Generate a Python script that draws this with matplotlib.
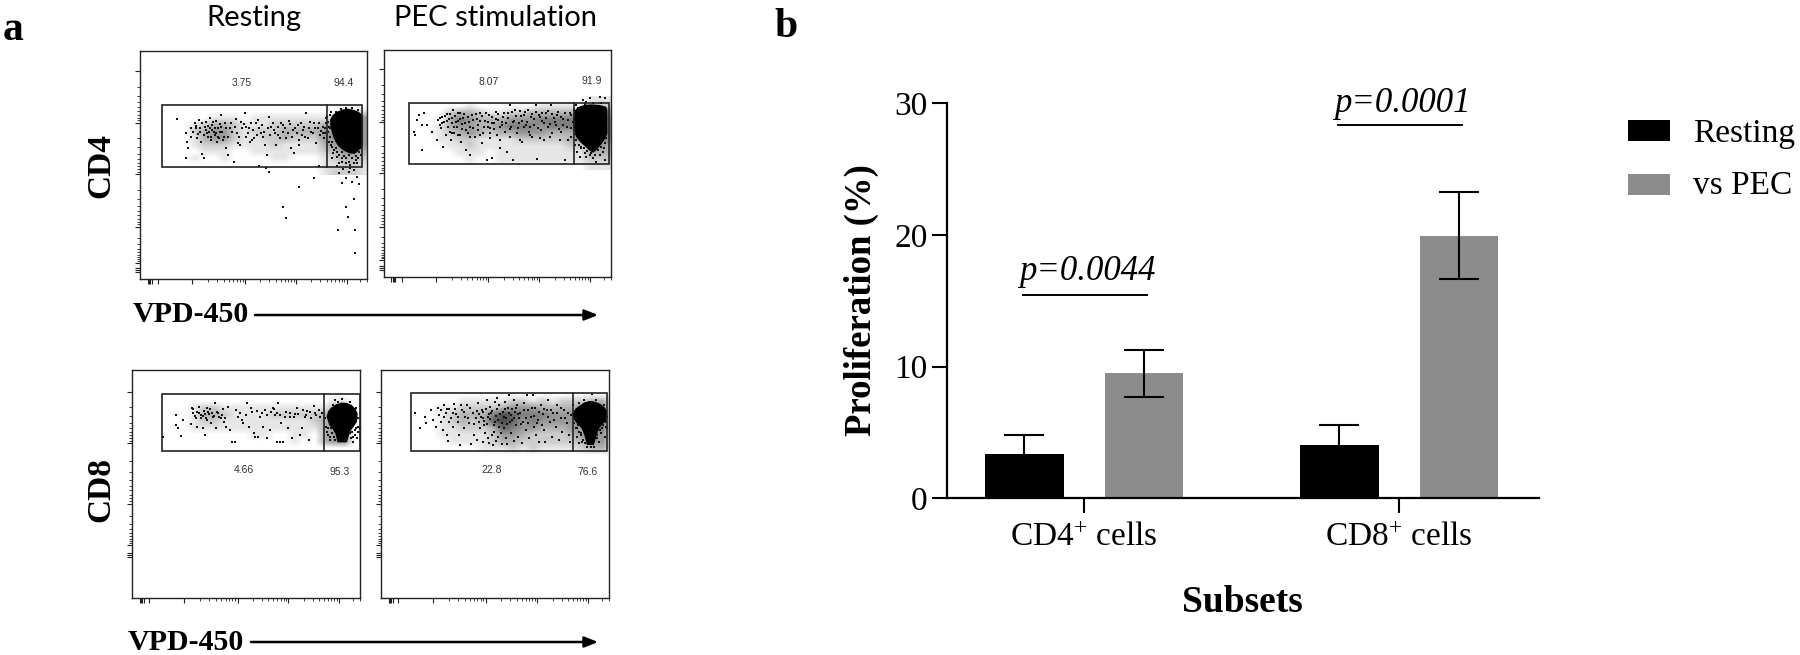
import numpy as np
import matplotlib
matplotlib.use("Agg")
import matplotlib.pyplot as plt
from matplotlib.patches import Polygon, Rectangle

plt.rcParams['font.family'] = ['Liberation Serif', 'DejaVu Serif']
plt.rcParams['mathtext.fontset'] = 'custom'
plt.rcParams['mathtext.rm'] = 'Liberation Serif'
plt.rcParams['mathtext.default'] = 'regular'

# ---------- panel b data ----------
categories = ['CD4$^{+}$ cells', 'CD8$^{+}$ cells']
resting_mean = [3.38, 4.03]
resting_err = [1.47, 1.52]
pec_mean = [9.5, 19.95]
pec_err = [1.78, 3.3]
y_ticks = [0, 10, 20, 30]
p_labels = ['p=0.0044', 'p=0.0001']
p_line_y = [15.47, 28.35]
p_text_y = [17.35, 30.1]

# ---------- panel a data (channel units of each plot) ----------
panel_names = ['A', 'B', 'C', 'D']
gate_labels = {'A': ['3.75', '94.4'], 'B': ['8.07', '91.9'], 'C': ['4.66', '95.3'], 'D': ['22.8', '76.6']}
label_pos = {'A': [(241.6, 83), (343.7, 83)], 'B': [(488.6, 82), (592, 81)],
             'C': [(243.7, 469.7), (339.6, 472)], 'D': [(492, 470), (588, 472)]}
axes_px = {'A': (140, 51, 367.3, 279), 'B': (383.7, 50, 611, 277),
           'C': (131.8, 370, 360, 598), 'D': (381, 370, 609, 598)}
limits = {'A': (-60, 622, 552, -132), 'B': (-64, 618, 561, -120),
          'C': (-85, 600, 639, -45), 'D': (-81, 603, 639, -45)}
gates = {'A': (5, 610, 30, 215, 505), 'B': (13, 612, 40, 222, 508),
         'C': (5, 600, 27, 198, 493), 'D': (8, 600, 25, 198, 496)}
x_major = {'A': [96, 257, 410, 563], 'B': [93, 250, 404, 557], 'C': [71, 233, 386, 539], 'D': [74, 234, 389, 543]}
y_major = {'A': [-72, 83, 238, 395, 504], 'B': [-63, 96, 248, 410, 510],
           'C': [20, 174, 357, 480], 'D': [20, 174, 357, 480]}
x_smear = {'A': -33, 'B': -37, 'C': -57, 'D': -54}
y_smear = {'A': 525, 'B': 534, 'C': 510, 'D': 510}

density = {
 'A': ["000000000000000000000",
       "000000000000000000111",
       "000001110111111112444",
       "000123321112222234444",
       "000234421222333344444",
       "000134421122322244444",
       "000122211112111134444",
       "000011100111111123443",
       "000100100001100012332",
       "000000000000000011221",
       "000000000000000012221"],
 'B': ["000000000000000000111",
       "000000100000011110122",
       "000023321122333334444",
       "000035433344455556555",
       "000134433455545555555",
       "000123432334443334555",
       "000112211112222233445",
       "000011211111111122343",
       "000001110111111111333",
       "000000100111111111222",
       "000000000000000000111"],
 'C': ["000000000000000000000",
       "000000000000000001100",
       "000122111111111113300",
       "000133211112222234400",
       "000122111111111234400",
       "000111111111111134400",
       "000000000110011034400",
       "000000000000010034400",
       "000000000000000000000",
       "000000000000000000000",
       "000000000000000000000"],
 'D': ["000000000000000000000",
       "000001111122121222330",
       "000112222344433334440",
       "000123335765554444550",
       "000123236764544444550",
       "000112223654433344550",
       "000111112443222234440",
       "000011112332222223440",
       "000000011121211112330",
       "000000000000000000000",
       "000000000000000000000"],
}

blobs = {
 'A': [(515,75),(522,62),(535,52),(550,46),(565,43),(582,46),(597,52),(610,62),(610,150),(600,163),(590,172),(577,174),(565,170),(552,163),(540,153),(530,138),(522,118),(516,95)],
 'B': [(508,70),(516,58),(528,50),(545,46),(562,45),(585,47),(603,52),(606,60),(606,130),(598,148),(588,162),(575,178),(565,186),(553,178),(543,168),(528,155),(516,140),(508,120)],
 'C': [(503,95),(507,80),(515,70),(530,60),(545,55),(562,56),(575,62),(587,74),(592,87),(590,110),(580,124),(572,135),(566,150),(560,170),(535,170),(530,148),(522,133),(510,118)],
 'D': [(498,85),(506,72),(517,64),(532,54),(547,50),(562,52),(577,58),(590,68),(598,80),(595,105),(582,118),(573,130),(566,150),(558,178),(540,178),(533,150),(524,128),(510,114),(501,102)],
}

events = {
 'A': [(52,72),(80,115),(82,140),(85,160),(80,190),(95,100),(95,125),(105,85),(110,100),(112,130),(118,75),(120,110),(125,140),(128,178),(133,188),
       (135,95),(140,80),(142,115),(146,125),(150,100),(152,70),(155,135),(158,90),(162,110),(165,120),(168,78),(172,140),(175,100),(178,130),(182,88),
       (185,60),(188,112),(192,125),(198,100),(200,160),(205,180),(215,85),(222,200),(230,72),(235,145),(240,150),(245,80),(255,55),(260,95),(265,115),
       (270,140),(278,135),(285,130),(290,85),(295,75),(305,115),(312,125),(318,150),(322,180),(328,65),(335,95),(345,105),(350,150),(356,120),(365,85),
       (372,110),(380,130),(388,78),(395,160),(400,105),(405,175),(415,90),(420,150),(428,120),(435,95),(440,55),(445,130),(455,110),(465,85),(470,145),
       (475,100),(482,120),(490,95),(496,130),(500,70),(512,60),(512,100),(515,150),(522,175),(535,185),(550,190),(570,200),(590,195),(605,180),
       (300,212),(320,218),(478,212),(535,212),(330,232),(420,277),(465,248),(371,337),(381,370),(536,405),(587,405),(587,473),(585,312),(560,335),(566,365),
       (540,235),(552,222),(560,250),(570,232),(578,260),(585,225),(595,245),(600,268),(548,265),(572,218),
       (100,110),(108,92),(115,118),(122,100),(128,85),(132,120),(138,105),(144,92),(148,110),(153,125),(157,105),(160,82),(166,98),(170,115),(174,125),(180,110),
       (185,95),(190,135),(195,85),(205,125),(212,100),(218,110),(226,95),(232,115),(238,125),(248,100),(252,88),(258,125),(268,100),(275,85),(282,105),(292,120),
       (300,100),(308,90),(315,110),(325,100),(332,120),(340,85),(348,115),(355,95),(362,130),(370,90),(378,100),(385,115),(392,88),(398,125),(408,100),(412,115),
       (418,135),(425,85),(432,105),(438,125),(448,100),(452,80),(460,115),(468,100),(478,85),(485,108),(492,115),(498,100),(502,85),(498,115),
       (505,65),(508,80),(510,95),(507,110),(512,125),(510,140),(518,140),(520,155),(525,165),(530,160),(535,172),(540,180),(548,172),(555,182),(562,190),(570,180),
       (578,188),(585,175),(592,182),(600,170),(606,160),(598,190),(585,205),(572,210),(560,205),(548,200),(595,205),(530,50),(545,42),(560,38),(580,40),(598,45),(515,50),(520,190),(540,205)],
 'B': [(28,125),(30,135),(35,90),(42,75),(50,105),(50,180),(57,70),(65,105),(80,125),(95,150),(100,90),(104,105),(108,115),(112,80),(115,170),(118,95),
       (122,135),(125,72),(128,110),(132,88),(135,125),(138,150),(142,100),(145,60),(148,130),(150,78),(155,110),(158,135),(160,92),(164,70),(168,155),(172,118),
       (175,85),(180,100),(182,180),(188,130),(192,95),(196,195),(200,75),(205,115),(210,140),(215,88),(220,105),(225,70),(230,160),(235,128),(240,92),(245,210),
       (248,110),(252,76),(256,145),(260,205),(262,98),(268,118),(272,66),(276,135),(280,90),(285,175),(290,105),(295,82),(300,125),(305,185),(310,70),(315,45),
       (320,110),(325,210),(328,92),(332,60),(338,130),(342,100),(348,78),(352,155),(358,112),(362,65),(368,95),(372,125),(378,82),(382,140),(388,105),(395,45),
       (398,208),(402,75),(408,120),(412,92),(418,150),(425,70),(430,110),(438,45),(442,130),(448,85),(455,105),(460,65),(468,125),(475,88),(480,210),(488,110),
       (495,70),(500,140),(505,95),(515,45),(512,165),(518,185),(525,200),(535,30),(545,35),(555,25),(585,22),(600,25),(530,175),(545,200),(565,205),(585,195),(600,210),(575,215),(555,195),(598,175),
       (105,85),(112,100),(120,78),(126,92),(134,72),(140,84),(146,110),(152,96),(158,68),(165,88),(170,102),(176,72),(182,120),(190,80),(196,110),(204,90),
       (212,72),(218,120),(226,92),(232,78),(238,112),(244,70),(250,95),(256,115),(262,80),(268,100),(274,88),(280,72),(286,112),(292,95),(298,70),(304,100),
       (310,85),(316,118),(322,66),(326,95),(334,78),(340,115),(346,62),(352,92),(358,75),(364,105),(370,60),(376,110),(382,72),(388,88),(394,65),(400,115),
       (406,82),(412,68),(418,98),(424,85),(430,62),(436,102),(442,72),(450,95),(456,75),(462,118),(470,80),(476,105),(482,70),(490,90),(498,75),(500,115),
       (140,130),(165,135),(195,140),(225,135),(255,130),(285,150),(315,140),(345,150),(375,135),(405,145),(435,140),(465,150),(490,150),
       (508,60),(510,130),(515,150),(522,165),(528,170),(538,175),(548,182),(558,190),(570,195),(580,180),(590,170),(600,160),(604,145),(540,190),(595,185),(520,55),(540,42),(565,38),(590,40)],
 'C': [(10,155),(47,90),(48,120),(55,130),(62,152),(68,105),(92,118),(95,70),(100,85),(108,100),(112,125),(118,65),(122,90),(128,130),(132,78),(135,150),
       (138,100),(142,70),(148,88),(152,115),(158,95),(165,55),(168,130),(175,85),(182,100),(188,72),(192,110),(198,125),(205,65),(210,135),(215,170),(225,170),
       (228,75),(235,95),(245,105),(250,115),(258,90),(262,55),(268,125),(272,70),(282,145),(285,155),(295,155),(300,95),(308,125),(315,75),(322,160),(330,135),
       (338,70),(345,90),(350,170),(355,55),(360,170),(365,115),(370,170),(378,80),(385,130),(392,95),(398,160),(405,88),(412,70),(420,150),(428,130),(435,95),
       (442,78),(448,165),(455,100),(462,62),(470,90),(478,75),(488,85),(505,150),(512,165),(525,45),(548,42),(585,135),(592,160),(580,170),(505,130),(595,125),
       (100,72),(105,92),(112,80),(118,85),(124,100),(128,92),(134,88),(140,105),(145,80),(150,72),(156,85),(162,92),(170,80),(178,95),(186,90),(195,100),
       (240,85),(275,80),(290,78),(305,85),(320,90),(332,80),(342,72),(352,85),(362,90),(375,95),(390,85),(402,95),(415,88),(430,75),(440,90),(452,80),(465,85),(480,95),
       (497,100),(498,125),(502,140),(508,108),(515,130),(518,145),(522,155),(512,155),(525,165),(572,145),(578,140),(585,150),(590,130),(596,140),(575,160),(580,155),(600,130),(595,100),(520,60),(535,50),(570,50),(590,70)],
 'D': [(22,85),(35,130),(50,95),(55,115),(68,75),(75,105),(85,125),(90,70),(95,90),(100,110),(105,135),(110,60),(115,85),(118,150),(122,168),(125,72),
       (130,100),(135,125),(140,58),(145,88),(150,110),(155,150),(158,180),(162,75),(168,130),(172,95),(178,60),(185,115),(190,178),(195,85),(200,150),(205,100),
       (208,165),(212,55),(218,130),(222,75),(225,172),(228,120),(232,145),(238,45),(240,160),(245,175),(248,65),(252,150),(255,180),(258,140),(262,50),(265,168),
       (268,40),(272,155),(275,60),(280,145),(282,178),(288,130),(292,50),(295,160),(298,178),(302,70),(305,30),(310,145),(312,105),(318,45),(320,168),(325,120),
       (328,60),(332,155),(338,85),(342,175),(345,110),(350,55),(355,135),(358,30),(362,75),(365,160),(370,95),(375,30),(378,125),(382,70),(385,150),(390,105),
       (395,170),(400,60),(405,88),(408,135),(412,172),(418,75),(422,45),(428,110),(432,155),(438,85),(445,125),(450,60),(455,165),(460,100),(465,140),(470,75),
       (478,115),(485,150),(490,90),(488,170),(505,130),(510,155),(515,175),(520,145),(525,170),(568,150),(575,170),(585,130),(592,155),(580,145),(512,120),(555,28),(595,110),
       (240,95),(250,85),(262,110),(275,125),(285,80),(296,100),(310,90),(322,80),(335,100),(225,100),(215,88),
       (100,75),(108,95),(118,72),(125,110),(135,85),(142,72),(152,95),(160,60),(170,80),(180,100),(188,70),(198,118),(208,78),(214,112),(220,95),(226,82),(230,108),
       (235,72),(238,118),(244,88),(248,102),(254,78),(258,120),(264,92),(268,72),(272,105),(278,88),(282,115),(288,95),(292,72),(298,118),(304,85),(308,112),(314,72),
       (318,98),(325,68),(330,88),(340,118),(348,75),(355,100),(362,115),(372,70),(380,92),(388,115),(395,80),(402,120),(410,72),(420,95),(430,75),(440,105),(450,85),(462,70),(472,100),(482,85),
       (497,60),(500,115),(505,100),(510,128),(516,140),(522,150),(528,165),(532,175),(538,185),(550,185),(560,185),(570,160),(578,135),(588,120),(595,125),(600,130),(598,95),(515,55),(530,45),(565,45),(590,60)],
}

# ---------- figure ----------
W, H = 1800, 655
fig = plt.figure(figsize=(W / 100, H / 100), dpi=100, facecolor='white')


def axes_from_px(x0, y0, x1, y1, **kw):
    return fig.add_axes([x0 / W, 1 - y1 / H, (x1 - x0) / W, (y1 - y0) / H], **kw)


def minors(maj):
    out = []
    for a, b in zip(maj[:-1], maj[1:]):
        out += [a + (b - a) * np.log10(k) for k in range(2, 10)]
    return out


for name in panel_names:
    ax = axes_from_px(*axes_px[name])
    x0, x1, yb, yt = limits[name]
    cells = np.array([[int(c) for c in row] for row in density[name]], dtype=float) / 10
    ax.imshow(cells, extent=(0, 630, 240, 20), cmap='gray_r', vmin=0, vmax=1,
              interpolation='bilinear', aspect='auto', zorder=1)
    ax.set_xlim(x0, x1)
    ax.set_ylim(yb, yt)
    ax.add_patch(Polygon(blobs[name], closed=True, facecolor='black', edgecolor='black',
                         linewidth=1.0, joinstyle='round', zorder=2))
    pts = np.array(events[name])
    ax.scatter(pts[:, 0], pts[:, 1], s=1.3, c='#111111', marker='s', linewidths=0, zorder=3)
    gx0, gx1, gy0, gy1, gv = gates[name]
    ax.add_patch(Rectangle((gx0, gy0), gx1 - gx0, gy1 - gy0, fill=False, edgecolor='#222222',
                           linewidth=1.2, zorder=4))
    ax.plot([gv, gv], [gy0, gy1], color='#222222', linewidth=1.2, zorder=4)

    xm = x_major[name]
    ym = y_major[name]
    s_x = x_smear[name]
    s_y = y_smear[name]
    ax.set_xticks(xm + [xm[0] - 103, s_x - 4, s_x, s_x + 4, s_x + 8])
    ax.set_yticks(ym + [s_y - 5, s_y, s_y + 5])
    ax.set_xticks(minors(xm) + [xm[-1] + 40, xm[-1] + 62], minor=True)
    ax.set_yticks(minors(ym), minor=True)
    ax.tick_params(which='major', length=3.6, width=0.8, labelleft=False, labelbottom=False, color='#222222')
    ax.tick_params(which='minor', length=1.9, width=0.6, color='#222222')
    for sp in ax.spines.values():
        sp.set_linewidth(1.0)
        sp.set_color('#222222')

# panel b
axb = axes_from_px(947, 103.3, 1539, 498.4)
axb.set_xlim(-0.435, 1.444)
axb.set_ylim(0, 30)
x = np.arange(len(categories))
off, bw = 0.19, 0.25
cap = dict(ecolor='black', elinewidth=1.5, capsize=14.5, capthick=1.5)
axb.bar(x - off, resting_mean, bw, color='black', yerr=resting_err, error_kw=cap, zorder=2)
axb.bar(x + off, pec_mean, bw, color='#8c8c8c', yerr=pec_err, error_kw=cap, zorder=2)
for sp in ('top', 'right'):
    axb.spines[sp].set_visible(False)
for sp in ('left', 'bottom'):
    axb.spines[sp].set_linewidth(1.6)
axb.set_xticks(x, categories)
axb.set_yticks(y_ticks)
axb.tick_params(axis='both', length=11, width=1.5, labelsize=24)
axb.tick_params(axis='x', pad=6)
axb.tick_params(axis='y', pad=3)
for i, lab in enumerate(p_labels):
    axb.plot([i - 0.194, i + 0.2], [p_line_y[i]] * 2, color='black', lw=1.4, clip_on=False)
    axb.text(i + 0.01, p_text_y[i] - 0.1, lab, style='italic', fontsize=25, ha='center', va='center', clip_on=False)

# overlay for free text
ov = fig.add_axes([0, 0, 1, 1], facecolor='none')
ov.set_xlim(0, W)
ov.set_ylim(H, 0)
ov.axis('off')
ov.text(13, 30, 'a', fontsize=30, fontweight='bold', ha='center', va='center')
ov.text(786, 27, 'b', fontsize=30, fontweight='bold', ha='center', va='center')
ov.text(254, 18, 'Resting', family='Lato', fontsize=21, ha='center', va='center')
ov.text(495, 18, 'PEC stimulation', family='Lato', fontsize=21, ha='center', va='center')
ov.text(101, 165, 'CD4', fontsize=24, fontweight='bold', rotation=90, ha='center', va='center')
ov.text(101, 489, 'CD8', fontsize=24, fontweight='bold', rotation=90, ha='center', va='center')
for name in panel_names:
    for lab, (lx, ly) in zip(gate_labels[name], label_pos[name]):
        ov.text(lx, ly, lab, family='Liberation Sans', fontsize=7.5, color='#333333', ha='center', va='center')
for tx, ty, a0, a1 in [(190.5, 315, 255, 598), (186, 642, 251, 598)]:
    ov.text(tx, ty, 'VPD-450', fontsize=21.5, fontweight='bold', ha='center', va='center')
    ov.annotate('', xy=(a1, ty), xytext=(a0, ty),
                arrowprops=dict(arrowstyle='-|>,head_length=0.8,head_width=0.32', color='black', lw=1.8,
                                shrinkA=0, shrinkB=0))
ov.text(861.5, 300, 'Proliferation (%)', fontsize=26.5, fontweight='bold', rotation=90, ha='center', va='center')
ov.text(1242, 603, 'Subsets', fontsize=27, fontweight='bold', ha='center', va='center')
ov.add_patch(Rectangle((1628, 120), 42, 21, facecolor='black', edgecolor='none'))
ov.add_patch(Rectangle((1628, 173.5), 42, 21, facecolor='#8c8c8c', edgecolor='none'))
ov.text(1693, 134, 'Resting', fontsize=24, ha='left', va='center')
ov.text(1693, 186, 'vs PEC', fontsize=24, ha='left', va='center')

fig.savefig('out.png', dpi=100)
